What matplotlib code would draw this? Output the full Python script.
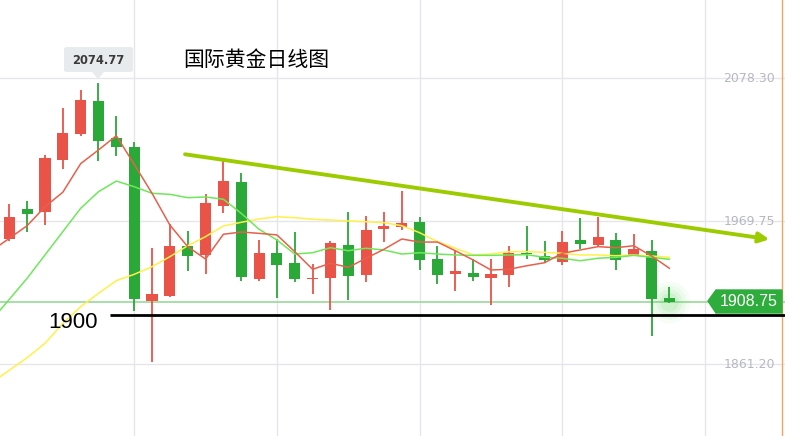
import matplotlib
matplotlib.use('Agg')
import matplotlib.pyplot as plt
from matplotlib.patches import Polygon, FancyBboxPatch

plt.rcParams['font.family'] = ['Noto Sans CJK SC', 'DejaVu Sans']

# daily OHLC, oldest first
opens = [1956.3, 1979.1, 1977.0, 2016.5, 2036.0, 2061.1, 2033.0, 2026.2, 1909.5, 1913.3,
         1950.8, 1944.4, 1981.6, 1999.6, 1926.2, 1945.7, 1938.1, 1925.9, 1926.9, 1951.8,
         1929.2, 1964.1, 1965.7, 1969.2, 1941.1, 1930.0, 1930.5, 1926.9, 1929.2, 1945.9,
         1943.4, 1939.1, 1955.6, 1952.0, 1955.6, 1944.4, 1947.2, 1911.5]
highs = [1982.9, 1985.2, 2020.1, 2056.0, 2069.4, 2074.77, 2049.7, 2029.9, 1949.5, 1967.7,
         1962.4, 1990.5, 2015.8, 2006.4, 1955.6, 1956.1, 1961.6, 1937.1, 1954.8, 1976.8,
         1973.8, 1976.8, 1992.8, 1973.0, 1951.0, 1948.0, 1941.1, 1941.4, 1951.0, 1966.2,
         1954.8, 1962.4, 1972.3, 1973.2, 1960.9, 1960.1, 1955.6, 1919.9]
lows = [1955.0, 1961.4, 1967.2, 2009.7, 2034.7, 2015.8, 2019.3, 1901.9, 1863.2, 1912.5,
        1932.3, 1930.0, 1976.3, 1924.7, 1924.7, 1911.8, 1923.9, 1914.8, 1902.7, 1910.2,
        1923.9, 1954.3, 1963.1, 1933.0, 1922.4, 1917.1, 1924.7, 1906.4, 1920.1, 1941.4,
        1937.9, 1936.8, 1949.0, 1950.0, 1933.0, 1944.2, 1882.9, 1907.5]
closes = [1973.0, 1975.5, 2017.8, 2036.8, 2061.8, 2030.9, 2025.9, 1911.0, 1914.6, 1951.0,
          1943.6, 1983.6, 2000.3, 1927.7, 1945.7, 1936.8, 1926.2, 1926.9, 1953.3, 1928.5,
          1963.1, 1966.2, 1968.5, 1940.4, 1929.2, 1932.0, 1927.7, 1929.8, 1945.7, 1944.7,
          1940.6, 1954.0, 1952.7, 1957.8, 1940.6, 1948.7, 1911.0, 1908.75]

# moving averages as drawn (first value is the day before the first candle)
ma_x = list(range(-1, 38))
ma5 = [1947.3, 1956.8, 1966.4, 1980.8, 1991.8, 2013.5, 2023.9, 2034.7, 2013.0, 1991.0,
       1966.9, 1950.5, 1941.1, 1959.9, 1961.6, 1960.6, 1959.4, 1946.7, 1933.3, 1937.9,
       1934.8, 1941.7, 1948.5, 1956.3, 1954.0, 1954.0, 1947.4, 1940.4, 1932.8, 1933.3,
       1936.0, 1938.3, 1945.5, 1948.0, 1950.5, 1949.7, 1951.2, 1943.4, 1934.1]
ma10 = [1894.6, 1910.5, 1926.5, 1944.2, 1961.9, 1979.6, 1992.2, 2000.3, 1996.0, 1991.0,
        1990.2, 1987.7, 1988.2, 1986.5, 1975.8, 1963.7, 1955.6, 1944.9, 1945.9, 1949.7,
        1947.4, 1949.3, 1948.0, 1944.9, 1945.9, 1944.9, 1944.2, 1943.9, 1943.9, 1944.2,
        1944.4, 1942.4, 1941.7, 1939.8, 1941.7, 1942.4, 1943.9, 1942.4, 1940.9]
ma20 = [1847.1, 1856.7, 1866.2, 1877.1, 1892.3, 1904.9, 1915.1, 1924.7, 1929.5, 1935.3,
        1942.9, 1951.2, 1958.1, 1966.2, 1969.0, 1971.5, 1973.2, 1972.5, 1971.3, 1970.7,
        1970.0, 1969.4, 1968.7, 1966.4, 1961.1, 1954.3, 1949.3, 1944.2, 1944.9, 1946.7,
        1946.7, 1946.2, 1945.5, 1944.2, 1944.2, 1943.6, 1944.2, 1943.4, 1942.4]

price_ticks = [2078.30, 1969.75, 1861.20]
time_grid = [7, 15, 23, 31, 39]
peak_idx = 5
peak_price = 2074.77
last_price = 1908.75
support_price = 1899
support_label = '1900'
trend_x = [9.85, 42.6]
trend_y = [2020.6, 1956.1]
title = '国际黄金日线图'

W, H = 785, 436
up_col = '#ea5348'
down_col = '#2aa838'


def fx(px):
    return px / W


def fy(py):
    return 1 - py / H


fig = plt.figure(figsize=(W / 100, H / 100), dpi=100)
ax = fig.add_axes([0, 0, 1, 1])
ax.set_xlim(-0.521, 43.48)
ax.set_ylim(1806.8, 2137.7)
ax.axis('off')

for p in price_ticks:
    ax.axhline(p, color='#e6e6ea', lw=1, zorder=0)
for t in time_grid:
    ax.axvline(t, color='#e6e6ea', lw=1, zorder=0)
ax.axvline(43.33, color='#f5a45a', lw=1, zorder=0)

# current price line
ax.axhline(last_price, color='#9ad89a', lw=1.2, zorder=1)

# candles
for i in range(len(opens)):
    o, h, l, c = opens[i], highs[i], lows[i], closes[i]
    col = up_col if c >= o else down_col
    ax.vlines(i, l, h, color=col, lw=1.3, zorder=3)
    ax.bar(i, max(abs(c - o), 0.9), bottom=min(o, c), width=0.62, color=col,
           lw=0, zorder=3)

ax.plot(ma_x, ma20, color='#fff04a', lw=1.1, zorder=4)
ax.plot(ma_x, ma10, color='#6ee85a', lw=1.1, zorder=4)
ax.plot(ma_x, ma5, color='#e8604c', lw=1.1, zorder=4)

# glow on the last candle
last = len(closes) - 1
for s, a in [(900, 0.05), (600, 0.07), (350, 0.09), (180, 0.12)]:
    ax.scatter([last], [last_price], s=s, color='#5fd85f', alpha=a, lw=0, zorder=2)

# trend line
ax.annotate('', xy=(trend_x[1], trend_y[1]), xytext=(trend_x[0], trend_y[0]),
            arrowprops=dict(arrowstyle='-|>', color='#9ccc00', lw=2.8,
                            mutation_scale=15, shrinkA=0, shrinkB=0), zorder=5)

# support
ax.hlines(support_price, 5.64, 43.5, color='black', lw=2, zorder=5)
fig.text(fx(72.5), fy(322), support_label, fontsize=16, family='Liberation Sans',
         ha='center', va='center', color='black')

# price axis labels
for p in price_ticks:
    ax.text(fx(775), p, '%.2f' % p, transform=ax.get_yaxis_transform(),
            ha='right', va='center', fontsize=9, family='DejaVu Sans', color='#b7b7c4')

# last price tag
tag = Polygon([(fx(708), fy(301)), (fx(716), fy(290)), (fx(782), fy(290)),
               (fx(782), fy(313)), (fx(716), fy(313))], closed=True,
              transform=fig.transFigure, color='#2eac3c', zorder=6)
fig.patches.append(tag)
fig.text(fx(749), fy(301.5), '%.2f' % last_price, fontsize=11.5, family='Liberation Sans',
         ha='center', va='center', color='white', zorder=7)

# peak tooltip
box = FancyBboxPatch((fx(64), fy(72)), fx(69), 25 / H, boxstyle='round,pad=0,rounding_size=0.004',
                     transform=fig.transFigure, color='#e8ebee', lw=0)
fig.patches.append(box)
tri = Polygon([(fx(92), fy(72)), (fx(104), fy(72)), (fx(98), fy(79))], closed=True,
              transform=fig.transFigure, color='#e8ebee', lw=0)
fig.patches.append(tri)
fig.text(fx(98), fy(60), '%.2f' % peak_price, fontsize=8.3, weight='bold',
         family='DejaVu Sans', ha='center', va='center', color='#3a3a3a')

fig.text(fx(256.5), fy(60.5), title, fontsize=15, ha='center', va='center', color='black')

fig.savefig('out.png', dpi=100)
